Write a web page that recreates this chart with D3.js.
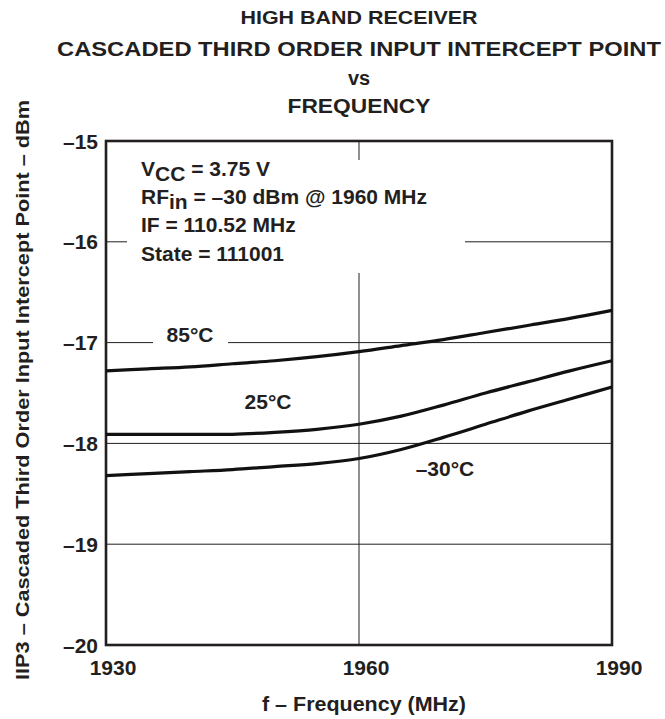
<!DOCTYPE html>
<html>
<head>
<meta charset="utf-8">
<style>
body { margin: 0; background: #fff; }
text { font-family: "Liberation Sans", Arial, sans-serif; font-weight: bold; fill: #231f20; }
</style>
</head>
<body>
<script src="https://cdn.jsdelivr.net/npm/d3@7"></script>
<script>

// frequency points (MHz) and IIP3 (dBm) per temperature
var freq = [1930, 1935, 1940, 1945, 1950, 1955, 1960, 1965, 1970, 1975, 1980, 1985, 1990];
var t85  = [-17.28, -17.26, -17.24, -17.21, -17.18, -17.14, -17.09, -17.03, -16.97, -16.90, -16.83, -16.76, -16.68];
var t25  = [-17.91, -17.91, -17.91, -17.91, -17.89, -17.86, -17.81, -17.73, -17.62, -17.50, -17.39, -17.28, -17.18];
var tm30 = [-18.32, -18.30, -18.28, -18.26, -18.23, -18.20, -18.15, -18.06, -17.94, -17.81, -17.68, -17.56, -17.44];

var xTicks = [1930, 1960, 1990];
var yTicks = [-15, -16, -17, -18, -19, -20];
var yTickLabels = ["\u201315", "\u201316", "\u201317", "\u201318", "\u201319", "\u201320"];

var series = [
  {name: "85\u00b0C", values: t85},
  {name: "25\u00b0C", values: t25},
  {name: "\u201330\u00b0C", values: tm30}
];

var margin = {top: 141, left: 106},
    width = 506,
    height = 504;

var svg = d3.select("body").append("svg")
    .attr("width", 665)
    .attr("height", 719);

var x = d3.scaleLinear().domain([1930, 1990]).range([margin.left, margin.left + width]);
var y = d3.scaleLinear().domain([-20, -15]).range([margin.top + height, margin.top]);

// titles
var titles = [
  {t: "HIGH BAND RECEIVER", y: 24, size: 18, len: 237},
  {t: "CASCADED THIRD ORDER INPUT INTERCEPT POINT", y: 56, size: 20, len: 604},
  {t: "vs", y: 85, size: 20, len: 0},
  {t: "FREQUENCY", y: 113, size: 20, len: 143}
];
titles.forEach(function(d) {
  var tx = svg.append("text")
      .attr("x", 359)
      .attr("y", d.y)
      .attr("text-anchor", "middle")
      .style("font-size", d.size + "px")
      .text(d.t);
  if (d.len) tx.attr("textLength", d.len).attr("lengthAdjust", "spacingAndGlyphs");
});

// grid
var grid = svg.append("g").attr("stroke", "#231f20").attr("stroke-width", 1);
grid.selectAll("line.h")
    .data(yTicks.slice(1, -1))
  .enter().append("line")
    .attr("x1", x(1930)).attr("x2", x(1990))
    .attr("y1", function(d) { return y(d); })
    .attr("y2", function(d) { return y(d); });
grid.append("line")
    .attr("x1", x(1960)).attr("x2", x(1960))
    .attr("y1", y(-15)).attr("y2", y(-20));

// white panels behind the notes
svg.append("rect").attr("x", 127).attr("y", 160).attr("width", 338).attr("height", 113).attr("fill", "#fff");
svg.append("rect").attr("x", 153).attr("y", 326).attr("width", 75).attr("height", 24).attr("fill", "#fff");

// frame
svg.append("rect")
    .attr("x", x(1930)).attr("y", y(-15))
    .attr("width", x(1990) - x(1930)).attr("height", y(-20) - y(-15))
    .attr("fill", "none")
    .attr("stroke", "#231f20")
    .attr("stroke-width", 2.6);

// curves
var line = d3.line()
    .x(function(d, i) { return x(freq[i]); })
    .y(function(d) { return y(d); })
    .curve(d3.curveCatmullRom.alpha(0.5));

svg.selectAll("path.curve")
    .data(series)
  .enter().append("path")
    .attr("class", "curve")
    .attr("d", function(d) { return line(d.values); })
    .attr("fill", "none")
    .attr("stroke", "#111")
    .attr("stroke-width", 3.2);

// curve labels
var labelPos = [[190, 342], [268, 409], [445, 476]];
series.forEach(function(d, i) {
  svg.append("text")
      .attr("x", labelPos[i][0])
      .attr("y", labelPos[i][1])
      .attr("text-anchor", "middle")
      .style("font-size", "21px")
      .text(d.name);
});

// y tick labels
svg.selectAll("text.ytick")
    .data(yTicks)
  .enter().append("text")
    .attr("x", margin.left - 8)
    .attr("y", function(d) { return y(d); })
    .attr("dy", "0.36em")
    .attr("text-anchor", "end")
    .style("font-size", "21px")
    .text(function(d, i) { return yTickLabels[i]; });

// x tick labels
svg.selectAll("text.xtick")
    .data(xTicks)
  .enter().append("text")
    .attr("x", function(d) { return x(d) + 7; })
    .attr("y", 675)
    .attr("text-anchor", "middle")
    .style("font-size", "21px")
    .text(function(d) { return d; });

// axis titles
svg.append("text")
    .attr("x", 364)
    .attr("y", 711)
    .attr("text-anchor", "middle")
    .style("font-size", "20px")
    .attr("textLength", 204)
    .attr("lengthAdjust", "spacingAndGlyphs")
    .text("f \u2013 Frequency (MHz)");

svg.append("text")
    .attr("transform", "translate(29,390) rotate(-90)")
    .attr("text-anchor", "middle")
    .style("font-size", "18px")
    .attr("textLength", 580)
    .attr("lengthAdjust", "spacingAndGlyphs")
    .text("IIP3 \u2013 Cascaded Third Order Input Intercept Point \u2013 dBm");

// conditions note
var note = svg.append("g").style("font-size", "21px");
var n1 = note.append("text").attr("x", 141).attr("y", 176);
n1.append("tspan").text("V");
n1.append("tspan").attr("dy", 5).text("CC");
n1.append("tspan").attr("dy", -5).text(" = 3.75 V");
var n2 = note.append("text").attr("x", 141).attr("y", 204);
n2.append("tspan").text("RF");
n2.append("tspan").attr("dy", 5).text("in");
n2.append("tspan").attr("dy", -5).text(" = \u201330 dBm @ 1960 MHz");
note.append("text").attr("x", 141).attr("y", 232).text("IF = 110.52 MHz");
note.append("text").attr("x", 141).attr("y", 261).text("State = 111001");

</script>
</body>
</html>
